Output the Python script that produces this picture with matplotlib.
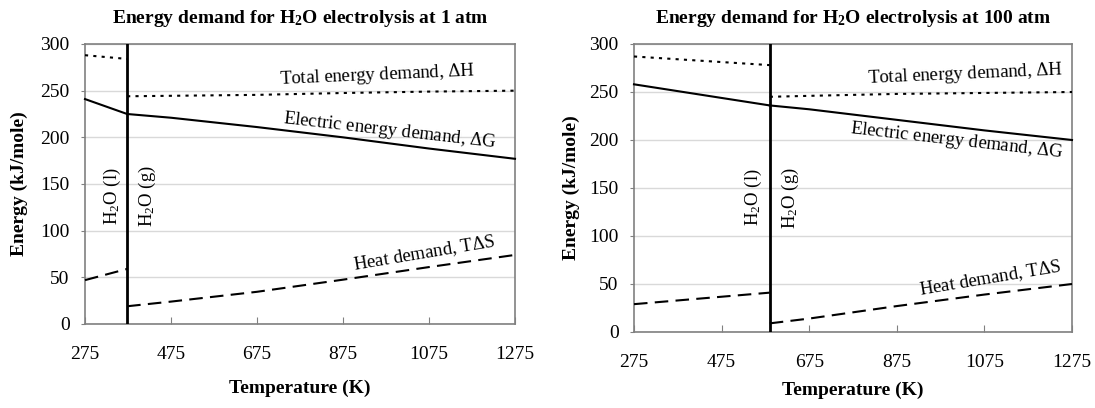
import matplotlib
matplotlib.use("Agg")
import matplotlib.pyplot as plt

plt.rcParams['font.family'] = ['Liberation Serif', 'DejaVu Serif']
plt.rcParams['mathtext.fontset'] = 'custom'
plt.rcParams['mathtext.rm'] = 'Liberation Serif'
plt.rcParams['mathtext.bf'] = 'Liberation Serif:bold'
plt.rcParams['mathtext.it'] = 'Liberation Serif:italic'

# ---- 1 atm ----
t_boil_1 = 373
T_liq_1 = [275, 373]
dH_liq_1 = [288, 284]
dG_liq_1 = [241, 225]
TdS_liq_1 = [47, 59]
T_gas_1 = [373, 475, 675, 875, 1075, 1275]
dH_gas_1 = [244, 244.5, 245.5, 247.5, 249, 250]
dG_gas_1 = [225, 221, 211, 200, 188, 177]
TdS_gas_1 = [19, 24, 34.5, 47.5, 61, 74]

# ---- 100 atm ----
t_boil_100 = 585
T_liq_100 = [275, 585]
dH_liq_100 = [287, 278]
dG_liq_100 = [258, 236]
TdS_liq_100 = [29, 41]
T_gas_100 = [585, 675, 875, 1075, 1275]
dH_gas_100 = [245, 246, 248, 249, 250]
dG_gas_100 = [236, 232, 221, 210, 200]
TdS_gas_100 = [9, 14, 27, 39, 50]

xticks = [275, 475, 675, 875, 1075, 1275]
yticks = [0, 50, 100, 150, 200, 250, 300]

dotted = (0, (1.5, 2.5))
dashed = (0, (6.5, 3.5))

fig = plt.figure(figsize=(10.95, 4.08), dpi=100)
ax1 = fig.add_axes([85 / 1095, 1 - 324 / 408, 430 / 1095, 280 / 408])
ax2 = fig.add_axes([634 / 1095, 1 - 332 / 408, 438 / 1095, 288 / 408])


def draw(ax, tb, Tl, Hl, Gl, Sl, Tg, Hg, Gg, Sg, title, labels, ylab_x, xlab_y):
    for T, H, G, S in [(Tl, Hl, Gl, Sl), (Tg, Hg, Gg, Sg)]:
        ax.plot(T, H, color='black', lw=1.5, linestyle=dotted, clip_on=False, zorder=3)
        ax.plot(T, G, color='black', lw=1.5, linestyle='-', clip_on=False, zorder=3)
        ax.plot(T, S, color='black', lw=1.5, linestyle=dashed, clip_on=False, zorder=3)
    ax.plot([tb, tb], [0, 300], color='black', lw=2, zorder=4)
    ax.set_xlim(275, 1275)
    ax.set_ylim(0, 300)
    ax.set_xticks(xticks)
    ax.set_yticks(yticks)
    ax.grid(axis='y', color='#d9d9d9', lw=1)
    ax.set_axisbelow(True)
    for s in ax.spines.values():
        s.set_color('#808080')
        s.set_linewidth(1.2)
    ax.tick_params(axis='x', direction='in', length=5, color='#808080', pad=16, labelsize=14)
    ax.tick_params(axis='y', direction='out', length=3, color='#808080', pad=8, labelsize=14)
    ax.set_title(title, fontsize=14, fontweight='bold', pad=15)
    ax.set_xlabel('Temperature (K)', fontsize=14, fontweight='bold')
    ax.set_ylabel('Energy (kJ/mole)', fontsize=14, fontweight='bold')
    ax.yaxis.set_label_coords(ylab_x, 0.5)
    ax.xaxis.set_label_coords(0.5, xlab_y)
    for txt, x, y, rot in labels:
        ax.text(x, y, txt, fontsize=13.5, rotation=rot, ha='center', va='center',
                rotation_mode='anchor')


labels_1 = [
    (r'Total energy demand, $\Delta$H', 954, 266, 2.5),
    (r'Electric energy demand, $\Delta$G', 984, 207, -6.5),
    (r'Heat demand, T$\Delta$S', 1063, 76, 9.5),
    (r'H$_2$O (l)', 338, 137, 90),
    (r'H$_2$O (g)', 421, 137, 90),
]
labels_100 = [
    (r'Total energy demand, $\Delta$H', 1031, 268, 2.5),
    (r'Electric energy demand, $\Delta$G', 1012, 199, -6.5),
    (r'Heat demand, T$\Delta$S', 1088, 56, 9.5),
    (r'H$_2$O (l)', 547, 140, 90),
    (r'H$_2$O (g)', 633, 140, 90),
]

draw(ax1, t_boil_1, T_liq_1, dH_liq_1, dG_liq_1, TdS_liq_1,
     T_gas_1, dH_gas_1, dG_gas_1, TdS_gas_1,
     r'Energy demand for H$_\mathbf{2}$O electrolysis at 1 atm', labels_1, -0.133, -0.2)
draw(ax2, t_boil_100, T_liq_100, dH_liq_100, dG_liq_100, TdS_liq_100,
     T_gas_100, dH_gas_100, dG_gas_100, TdS_gas_100,
     r'Energy demand for H$_\mathbf{2}$O electrolysis at 100 atm', labels_100, -0.123, -0.174)

fig.savefig('out.png', dpi=100)
